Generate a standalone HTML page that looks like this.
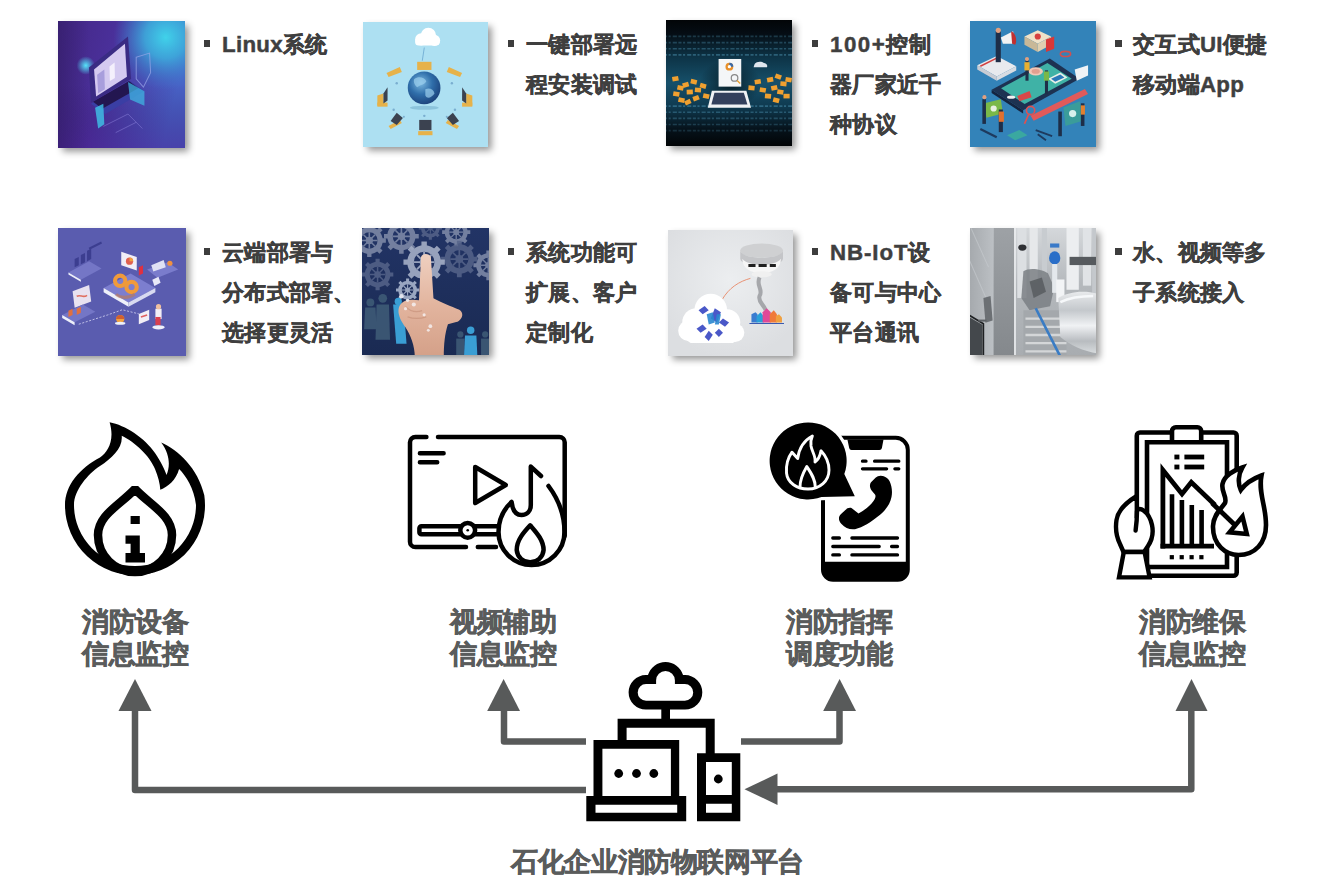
<!DOCTYPE html>
<html><head><meta charset="utf-8">
<style>
html,body{margin:0;padding:0;background:#fff;}
body{width:1320px;height:882px;position:relative;overflow:hidden;font-family:"Liberation Sans",sans-serif;}
.img{position:absolute;width:127px;height:127px;overflow:hidden;box-shadow:3.5px 3.5px 7px rgba(0,0,0,0.42);}
.img svg{position:absolute;left:-2px;top:-2px;width:calc(100% + 4px);height:calc(100% + 4px);display:block;filter:blur(0.6px);}
.txt{position:absolute;font-size:22.3px;font-weight:bold;color:#3f3f3f;line-height:40px;white-space:nowrap;-webkit-text-stroke:0.45px #3f3f3f;letter-spacing:0.3px;}
.bul{position:absolute;width:6.3px;height:6.3px;background:#3d3d3d;}
.lab{position:absolute;font-size:26.8px;font-weight:bold;color:#5a5c5c;line-height:31.5px;-webkit-text-stroke:0.6px #5a5c5c;letter-spacing:-0.5px;text-align:center;white-space:nowrap;width:140px;}
svg.abs{position:absolute;left:0;top:0;}
</style></head><body>

<!-- images row 1 -->
<div class="img" id="i1" style="left:58.4px;top:20.5px;width:126.6px;height:127.2px"><svg viewBox="0 0 127 127" preserveAspectRatio="none">
<defs>
<linearGradient id="g1a" x1="0" y1="0" x2="1" y2="0.25"><stop offset="0" stop-color="#432684"/><stop offset="0.45" stop-color="#4a309a"/><stop offset="1" stop-color="#4862c6"/></linearGradient>
<radialGradient id="g1b" cx="0.84" cy="0.14" r="0.4"><stop offset="0" stop-color="#40d2ea"/><stop offset="0.4" stop-color="#3cb0de" stop-opacity="0.85"/><stop offset="1" stop-color="#3a80d0" stop-opacity="0"/></radialGradient>
<linearGradient id="g1c" x1="0" y1="0" x2="0" y2="1"><stop offset="0.5" stop-color="#2a1560" stop-opacity="0"/><stop offset="1" stop-color="#4a2090" stop-opacity="0.5"/></linearGradient>
<linearGradient id="g1e" x1="0" y1="0" x2="1" y2="0"><stop offset="0" stop-color="#2a1858" stop-opacity="0.45"/><stop offset="0.25" stop-color="#2a1858" stop-opacity="0"/></linearGradient>
<radialGradient id="g1d" cx="0.5" cy="0.5" r="0.5"><stop offset="0" stop-color="#56e4fa"/><stop offset="1" stop-color="#50e0f8" stop-opacity="0"/></radialGradient>
</defs>
<rect width="127" height="127" fill="url(#g1a)"/>
<rect width="127" height="127" fill="url(#g1b)"/>
<rect width="127" height="127" fill="url(#g1c)"/>
<rect width="127" height="127" fill="url(#g1e)"/>
<circle cx="29" cy="45" r="9" fill="url(#g1d)"/>
<path d="M34 82 L72 60 L86 70 L48 92 Z" fill="#3a3ea4"/>
<path d="M36 80 L71 60 L80 67 L45 87 Z" fill="#231650"/>
<path d="M70 61 L86 70 L86 84 L72 78 Z" fill="#3fb4e2" opacity="0.75"/>
<path d="M32 47 L70 17 L73 58 L34 81 Z" fill="#3a2c84"/>
<path d="M37 49 L67 24 L69 56 L39 75 Z" fill="#d4caf0"/>
<path d="M40 54 L47 49 L47.5 68 L41 72 Z" fill="#a89edc"/>
<path d="M52 46 L57 42 L57.3 57 L52.4 60 Z" fill="#f4f0fc"/>
<path d="M78 37 L91 33 L92 52 L85 66 L78 58 Z" fill="none" stroke="#98a6e8" stroke-width="1" opacity="0.7"/>
<path d="M38 86 L46 82 L47 102 L41 106 Z" fill="#40bce4" opacity="0.85"/>
<path d="M46 104 L70 92 L84 106 M58 110 L78 100" stroke="#8e84dc" stroke-width="0.8" fill="none" opacity="0.6"/>
</svg></div>
<div class="img" id="i2" style="left:362.7px;top:21.5px;width:125.7px;height:125.5px"><svg viewBox="0 0 127 127" preserveAspectRatio="none">
<defs><radialGradient id="g2a" cx="0.4" cy="0.35" r="0.7"><stop offset="0" stop-color="#7ab8e0"/><stop offset="0.5" stop-color="#2f6eaa"/><stop offset="1" stop-color="#1a3f78"/></radialGradient></defs>
<rect width="127" height="127" fill="#ade0f2"/>
<g fill="#fff"><circle cx="59" cy="19" r="6"/><circle cx="66" cy="15" r="7.5"/><circle cx="72" cy="20" r="5.5"/><rect x="53" y="18" width="24" height="7" rx="3.5"/></g>
<path d="M62 27 L60 40" stroke="#6aa8d0" stroke-width="0.8"/>
<ellipse cx="62" cy="86" rx="14" ry="2" fill="#8cc4dc"/>
<circle cx="61.8" cy="66.6" r="16" fill="url(#g2a)"/>
<path d="M52 58 C56 55 62 56 64 60 C62 64 58 63 55 66 C53 64 51 61 52 58 Z M63 68 C67 66 71 68 72 72 C69 76 65 78 63 74 Z" fill="#9cd0ee" opacity="0.7"/>
<g fill="#e6b24a">
<rect x="55" y="41" width="14" height="8"/>
<path d="M25 52 L38 46 L40 51 L27 56 Z"/>
<path d="M86 46 L99 52 L97 56 L84 51 Z"/>
<path d="M16 74 L22 72 L22 82 L16 84 Z"/><rect x="16" y="81" width="10" height="4"/>
<path d="M103 72 L109 74 L109 84 L103 82 Z"/><rect x="99" y="81" width="10" height="4"/>
<path d="M27 104 L38 98 L40 101 L29 107 Z"/>
<rect x="56" y="109" width="14" height="4"/>
<path d="M85 98 L96 104 L94 107 L83 101 Z"/>
</g>
<g fill="#3b4250">
<path d="M29 99 L35 91 L41 96 L35 103 Z"/>
<rect x="57" y="98" width="12" height="10"/>
<path d="M84 96 L90 91 L96 99 L90 103 Z"/>
<path d="M22 72 L26 66 L26 79 L22 82 Z"/>
<path d="M103 72 L99 66 L99 79 L103 82 Z"/>
</g>
<g fill="#7aaed0"><circle cx="35" cy="62" r="1.2"/><circle cx="89" cy="62" r="1.2"/><circle cx="32" cy="88" r="1.2"/><circle cx="92" cy="88" r="1.2"/><circle cx="62" cy="94" r="1.2"/><circle cx="42" cy="95" r="1"/><circle cx="84" cy="95" r="1"/></g>
</svg></div>
<div class="img" id="i3" style="left:665.7px;top:20.4px;width:126.8px;height:126.1px"><svg viewBox="0 0 127 127" preserveAspectRatio="none">
<defs><linearGradient id="g3a" x1="0" y1="0" x2="0" y2="1"><stop offset="0" stop-color="#020406"/><stop offset="0.12" stop-color="#050d14"/><stop offset="0.3" stop-color="#0d3346"/><stop offset="0.5" stop-color="#16506a"/><stop offset="0.68" stop-color="#0f3a50"/><stop offset="0.85" stop-color="#06131c"/><stop offset="1" stop-color="#010203"/></linearGradient>
<radialGradient id="g3b" cx="0.5" cy="0.5" r="0.5"><stop offset="0" stop-color="#000" stop-opacity="0.6"/><stop offset="1" stop-color="#000" stop-opacity="0"/></radialGradient></defs>
<rect width="127" height="127" fill="url(#g3a)"/>
<path d="M0 18 H127" stroke="#5aa8c8" stroke-width="1.6" stroke-dasharray="3 1.5 2 2 4 1.5" opacity="0.25"/><path d="M0 24 H127" stroke="#5aa8c8" stroke-width="1.6" stroke-dasharray="3 1.5 2 2 4 1.5" opacity="0.3"/><path d="M0 30 H127" stroke="#5aa8c8" stroke-width="1.6" stroke-dasharray="3 1.5 2 2 4 1.5" opacity="0.35"/><path d="M0 36 H127" stroke="#5aa8c8" stroke-width="1.6" stroke-dasharray="3 1.5 2 2 4 1.5" opacity="0.4"/><path d="M0 86 H127" stroke="#5aa8c8" stroke-width="1.6" stroke-dasharray="3 1.5 2 2 4 1.5" opacity="0.4"/><path d="M0 92 H127" stroke="#5aa8c8" stroke-width="1.6" stroke-dasharray="3 1.5 2 2 4 1.5" opacity="0.35"/><path d="M0 98 H127" stroke="#5aa8c8" stroke-width="1.6" stroke-dasharray="3 1.5 2 2 4 1.5" opacity="0.3"/><path d="M0 104 H127" stroke="#5aa8c8" stroke-width="1.6" stroke-dasharray="3 1.5 2 2 4 1.5" opacity="0.25"/><path d="M0 110 H127" stroke="#5aa8c8" stroke-width="1.6" stroke-dasharray="3 1.5 2 2 4 1.5" opacity="0.2"/>
<ellipse cx="64" cy="64" rx="30" ry="24" fill="url(#g3b)"/>
<rect x="53" y="40" width="22" height="27" fill="#f4f6f8"/>
<circle cx="63.5" cy="47.5" r="3.8" fill="#e8902a"/><path d="M63.5 47.5 L63.5 43.7 A3.8 3.8 0 0 1 67.3 47.5 Z" fill="#3a6aa8"/><circle cx="63.5" cy="47.5" r="1.6" fill="#fff"/>
<circle cx="68.5" cy="58.5" r="3.2" fill="none" stroke="#888" stroke-width="1.2"/><path d="M71 61 L74 64" stroke="#e8a030" stroke-width="1.3"/>
<path d="M46.5 71 H80 L84.5 87.5 H42.5 Z" fill="#f0f2f4"/>
<path d="M49 73 H77.5 L81 84.5 H46 Z" fill="#33405c"/>
<path d="M88 45 C90 42 95 42 97 44 C99 44 101 46 100 48 H87 Z" fill="#dfe6ee"/>
<g fill="#f0a030"><rect x="8" y="57" width="6" height="4.5" transform="rotate(-10 11 59)"/><rect x="13" y="66" width="6" height="4.5" transform="rotate(12 16 68)"/><rect x="9" y="72" width="6" height="4.5" transform="rotate(9 12 74)"/><rect x="18" y="63" width="6" height="4.5" transform="rotate(-17 21 65)"/><rect x="22" y="70" width="6" height="4.5" transform="rotate(-2 25 72)"/><rect x="26" y="60" width="6" height="4.5" transform="rotate(13 29 62)"/><rect x="30" y="68" width="6" height="4.5" transform="rotate(5 33 70)"/><rect x="35" y="64" width="6" height="4.5" transform="rotate(15 38 66)"/><rect x="14" y="78" width="6" height="4.5" transform="rotate(12 17 80)"/><rect x="28" y="76" width="6" height="4.5" transform="rotate(-21 31 78)"/><rect x="38" y="74" width="6" height="4.5" transform="rotate(13 41 76)"/><rect x="20" y="80" width="6" height="4.5" transform="rotate(-25 23 82)"/><rect x="82" y="66" width="6" height="4.5" transform="rotate(5 85 68)"/><rect x="88" y="60" width="6" height="4.5" transform="rotate(-9 91 62)"/><rect x="93" y="68" width="6" height="4.5" transform="rotate(10 96 70)"/><rect x="100" y="58" width="6" height="4.5" transform="rotate(-11 103 60)"/><rect x="104" y="66" width="6" height="4.5" transform="rotate(-13 107 68)"/><rect x="108" y="55" width="6" height="4.5" transform="rotate(20 111 57)"/><rect x="113" y="62" width="6" height="4.5" transform="rotate(5 116 64)"/><rect x="118" y="58" width="6" height="4.5" transform="rotate(9 121 60)"/><rect x="110" y="70" width="6" height="4.5" transform="rotate(10 113 72)"/><rect x="98" y="74" width="6" height="4.5" transform="rotate(5 101 76)"/><rect x="116" y="74" width="6" height="4.5" transform="rotate(0 119 76)"/><rect x="106" y="78" width="6" height="4.5" transform="rotate(15 109 80)"/></g>
</svg></div>
<div class="img" id="i4" style="left:969.5px;top:20.6px;width:126.3px;height:126.6px"><svg viewBox="0 0 127 127" preserveAspectRatio="none">
<rect width="127" height="127" fill="#3383b9"/>
<path d="M9 45 L28 36 L47 46 L28 56 Z" fill="#e8eaee"/><path d="M9 45 L28 56 L28 60 L9 49 Z" fill="#c8ccd4"/><path d="M28 56 L47 46 L47 50 L28 60 Z" fill="#d8dce2"/>
<path d="M12 46 L28 38" stroke="#d04040" stroke-width="1.5"/>
<rect x="27" y="12" width="5" height="30" fill="#1e2e48"/><circle cx="29.5" cy="11" r="2.5" fill="#e0a080"/>
<path d="M32 18 L44 12 L46 24 L34 24 Z" fill="#f2f2f2"/><path d="M42 12 C47 14 48 22 46 25 L43 24 Z" fill="#c03030"/>
<path d="M55 17 L68 11 L81 17 L68 24 Z" fill="#f0e2c8"/><path d="M55 17 L68 24 L68 32 L55 25 Z" fill="#c8b898"/><path d="M68 24 L81 17 L81 25 L68 32 Z" fill="#e0d0b0"/>
<circle cx="68" cy="17" r="3" fill="#d84040"/>
<path d="M76 20 L84 17 L84 29 L76 32 Z" fill="#d83838"/>
<ellipse cx="95" cy="34" rx="5" ry="2.5" fill="none" stroke="#d05050" stroke-width="1.6"/>
<path d="M23 68.9 L79.7 38.3 L108.7 58.2 L53.7 88.8 Z" fill="#1d3252"/>
<path d="M23 68.9 L53.7 88.8 L53.7 92 L23 72 Z" fill="#142440"/>
<path d="M32.2 67.4 L77.4 42.9 L101.1 58.2 L55.2 82.7 Z" fill="#3fb2a6"/>
<path d="M104 49 L117 45 L117 55 L106 60 Z" fill="#eef2f6"/>
<path d="M78 58 L90 52 L97 57 L85 63 Z" fill="#e8f0e8"/><path d="M81 58 L90 54 L94 57 L85 61 Z" fill="#2a78b8"/>
<ellipse cx="66" cy="51" rx="7" ry="4" fill="#f0c8b8"/><ellipse cx="66" cy="51" rx="4" ry="2.3" fill="#e0a090"/>
<rect x="56" y="40" width="3" height="20" fill="#1e2e48"/><rect x="55" y="42" width="5" height="8" fill="#e8b030"/><circle cx="57.5" cy="39" r="2" fill="#e0a080"/>
<rect x="75" y="50" width="3" height="23" fill="#1e2e48"/><rect x="74" y="51" width="5" height="9" fill="#7ab848"/>
<ellipse cx="42" cy="76" rx="4" ry="1.6" fill="#f0f0f0"/>
<path d="M48 75 L60 70 L62 76 L50 80 Z" fill="#d84848"/>
<path d="M61 94 L114 68 L117 73 L64 99 Z" fill="#e05a5a"/>
<circle cx="61" cy="89" r="4" fill="none" stroke="#e05050" stroke-width="1.6"/><path d="M59 93 L55 102" stroke="#e05050" stroke-width="1.6"/>
<path d="M16 82 L32 78 L34 92 L18 96 Z" fill="#7ab848"/><circle cx="25" cy="87" r="3" fill="#e8f0e0"/>
<rect x="14" y="78" width="3.5" height="24" fill="#1e2e48"/><circle cx="16" cy="76" r="2" fill="#e0a080"/>
<rect x="30" y="88" width="4" height="22" fill="#1e2e48"/><rect x="30" y="90" width="5" height="10" fill="#e07030"/>
<path d="M93 86 L109 80 L112 99 L95 104 Z" fill="#3a9c9a"/><circle cx="102" cy="92" r="3.5" fill="#d8f0ec"/>
<rect x="88" y="90" width="3.5" height="24" fill="#1e2e48"/><rect x="110" y="82" width="3.5" height="22" fill="#1e2e48"/><rect x="110" y="84" width="4" height="9" fill="#e08030"/>
<path d="M12 107 L28 115" stroke="#1e3a5e" stroke-width="2.2"/>
<path d="M38 113 L50 108 L58 113 L46 118 Z" fill="#3aa8a0"/>
<path d="M66 108 L82 114 M68 112 L76 118" stroke="#1e3a5e" stroke-width="1.8"/>
</svg></div>
<!-- images row 2 -->
<div class="img" id="i5" style="left:58.4px;top:228.4px;width:127.5px;height:127.3px"><svg viewBox="0 0 127 127" preserveAspectRatio="none">
<rect width="127" height="127" fill="#5a5caf"/>
<path d="M12 45 L32 34 L44 41 L24 52 Z" fill="#7476c6"/><path d="M12 45 L24 52 L24 54 L12 47 Z" fill="#eef0fa"/>
<path d="M18 40 L22 38 L22 30 L18 32 Z M24 37 L28 35 L28 26 L24 28 Z M30 34 L34 32 L34 22 L30 24 Z" fill="#3c3e90"/>
<path d="M32 22 L44 16" stroke="#3c3e90" stroke-width="2"/>
<path d="M63 25 L78 30 L78 43 L63 38 Z" fill="#f2eef6"/><circle cx="71" cy="34" r="3.5" fill="#e06050"/><path d="M71 34 L71 30.5 A3.5 3.5 0 0 1 74.5 34 Z" fill="#f0a040"/>
<path d="M80 40 L84 38 L84 46 L80 48 Z" fill="#e03040"/>
<path d="M88 42 L108 35 L118 42 L98 50 Z" fill="#7a7ccc"/><path d="M92 38 L104 33 L106 40 L94 44 Z" fill="#dfe0f4"/><circle cx="110" cy="36" r="2.5" fill="#f09040"/>
<path d="M46 60 L72 46 L96 60 L70 74 Z" fill="#7c7ecf"/><path d="M46 60 L70 74 L70 78 L46 64 Z" fill="#eef0fa"/><path d="M70 74 L96 60 L96 64 L70 78 Z" fill="#d8daf0"/>
<g fill="none" stroke="#f09a3a" stroke-width="4"><circle cx="62" cy="53" r="5"/><circle cx="73" cy="59" r="5"/></g>
<path d="M58 66 C62 70 70 70 76 66" stroke="#c07a50" stroke-width="3" fill="none" opacity="0.6"/>
<path d="M16 63 L32 57 L34 73 L18 79 Z" fill="#e8e2f0"/><path d="M20 68 C24 66 26 70 30 67" stroke="#e07060" stroke-width="1.5" fill="none"/>
<path d="M6 86 L26 76 L38 83 L18 93 Z" fill="#7476c6"/><path d="M6 86 L18 93 L18 96 L6 89 Z" fill="#eef0fa"/>
<path d="M12 82 L16 80 L16 86 L12 88 Z M20 80 L24 78 L24 84 L20 86 Z" fill="#e07040"/>
<path d="M22 95 L50 86 L64 81 L80 85" stroke="#d0d0f0" stroke-width="0.8" fill="none" stroke-dasharray="2 1.5"/>
<circle cx="62" cy="90" r="4" fill="#f0a040"/><path d="M58 90 A4 4 0 0 1 66 90 Z" fill="#d06030"/><ellipse cx="62" cy="94" rx="5" ry="1.5" fill="#eef0fa"/>
<path d="M80 85 L90 81 L90 91 L80 95 Z" fill="#f2eef6"/><path d="M82 88 L88 86" stroke="#e06060" stroke-width="1.5"/>
<rect x="96" y="80" width="6" height="10" fill="#f2eef6"/><circle cx="99" cy="78" r="2.5" fill="#f0c0a0"/><rect x="96" y="88" width="5" height="8" fill="#d84050"/>
<ellipse cx="99" cy="98" rx="6" ry="2" fill="#eef0fa"/>
<path d="M93 52 L99 49 L101 55 L95 58 Z" fill="#e8e8f8"/>
</svg></div>
<div class="img" id="i6" style="left:361.9px;top:228.2px;width:127.4px;height:127.2px"><svg viewBox="0 0 127 127" preserveAspectRatio="none">
<defs>
<g id="gear"><circle r="10.5" fill="none" stroke-width="5"/><circle r="3"/><path d="M0 -8 V8 M-8 0 H8 M-5.6 -5.6 L5.6 5.6 M-5.6 5.6 L5.6 -5.6" stroke-width="1.5"/>
<g stroke-width="4.2"><path d="M0 -16 V-10 M0 16 V10 M-16 0 H-10 M16 0 H10 M-11.3 -11.3 L-7 -7 M11.3 11.3 L7 7 M-11.3 11.3 L-7 7 M11.3 -11.3 L7 -7"/></g></g>
<linearGradient id="g6a" x1="0" y1="0" x2="0" y2="1"><stop offset="0" stop-color="#efd0c0"/><stop offset="0.5" stop-color="#e2b49e"/><stop offset="1" stop-color="#d4a088"/></linearGradient>
<linearGradient id="g6b" x1="0" y1="0" x2="0" y2="1"><stop offset="0" stop-color="#223466"/><stop offset="1" stop-color="#1a2a52"/></linearGradient>
</defs>
<rect width="127" height="127" fill="url(#g6b)"/>
<g fill="#7c88a6" stroke="#7c88a6" opacity="0.9">
<use href="#gear" transform="translate(9 14)"/>
<use href="#gear" transform="translate(40 10) scale(1.05)"/>
<use href="#gear" transform="translate(93 6) scale(0.85)"/>
<use href="#gear" transform="translate(124 38) scale(0.9)"/>
</g>
<g fill="#56648a" stroke="#56648a" opacity="0.85">
<use href="#gear" transform="translate(17 47) scale(0.95)"/>
<use href="#gear" transform="translate(96 32) scale(1.1)"/>
<use href="#gear" transform="translate(68 2) scale(0.7)"/>
</g>
<g fill="#a2acc4" stroke="#a2acc4" opacity="0.92"><use href="#gear" transform="translate(62 35) scale(1.25)"/></g>
<g fill="#b8c4da" stroke="#b8c4da" opacity="0.8"><use href="#gear" transform="translate(46 62) scale(0.7)"/></g>
<g fill="#42607a" opacity="0.8">
<circle cx="10" cy="74" r="3.8"/><path d="M5 79 H15 L16 100 H4 Z"/>
<circle cx="22" cy="70" r="4.2"/><path d="M16 76 H28 L29 110 H15 Z"/>
<circle cx="97" cy="105" r="3"/><path d="M93 109 H101 V127 H93 Z"/>
<circle cx="121" cy="105" r="3"/><path d="M117 109 H127 V127 H117 Z"/>
</g>
<g fill="#3a9ed4"><circle cx="107" cy="101" r="3.6"/><path d="M101.5 106 H112.5 L113.5 127 H100.5 Z"/>
<path d="M32 76 H42 L45 114 H35 Z"/><circle cx="37" cy="73" r="3.5"/></g>
<path d="M59 30 C60 26 67 26 68.5 30 L71 70 C78 74 88 78 96 81 C101 84 99 91 93 93 L85 95 C82 104 81 114 81 127 H53 C53 116 49 106 44 98 C38 90 35 82 39 76 C43 71 51 71 57 72 Z" fill="url(#g6a)"/>
<path d="M44 78 C48 82 54 84 60 82 M46 88 C52 90 58 90 64 88" stroke="#c08870" stroke-width="1.2" fill="none" opacity="0.5"/>
<g fill="#f8f8fc" opacity="0.75"><circle cx="40" cy="68" r="2.2"/><circle cx="46" cy="72" r="1.6"/><circle cx="52" cy="76" r="2"/><circle cx="44" cy="80" r="1.5"/><circle cx="62" cy="86" r="1.5"/><circle cx="68" cy="97" r="1.8"/><circle cx="66" cy="101" r="1.4"/></g>
</svg></div>
<div class="img" id="i7" style="left:667.8px;top:229.5px;width:125.2px;height:126.5px"><svg viewBox="0 0 127 127" preserveAspectRatio="none">
<defs><radialGradient id="g7a" cx="0.5" cy="0.4" r="0.6"><stop offset="0" stop-color="#eceef0"/><stop offset="1" stop-color="#dcdee1"/></radialGradient></defs>
<rect width="127" height="127" fill="url(#g7a)"/>
<ellipse cx="94" cy="22" rx="21" ry="7" fill="#cfd0d2"/>
<path d="M73 22 V30 C73 34 83 38 94 38 C105 38 115 34 115 30 V22 C115 26 105 29 94 29 C83 29 73 26 73 22 Z" fill="#c4c5c8"/>
<path d="M75 30 C75 40 84 44 94 44 C104 44 113 40 113 30 C110 34 102 36 94 36 C86 36 78 34 75 30 Z" fill="#f6f6f6"/>
<path d="M81 35 H88 V38 H81 Z M91 35 H99 V38 H91 Z M102 35 H108 V38 H102 Z" fill="#202020"/>
<ellipse cx="94" cy="45" rx="10" ry="3" fill="#f0f0f0"/>
<path d="M92 48 C88 56 96 60 92 66 C90 72 96 74 98 80" stroke="#8a8c90" stroke-width="4" fill="none" opacity="0.7"/>
<path d="M83 49 C72 52 62 58 55 70" stroke="#e88a6a" stroke-width="0.9" fill="none"/>
<g fill="#ffffff"><circle cx="30" cy="92" r="14"/><circle cx="44" cy="80" r="16"/><circle cx="60" cy="92" r="13"/><circle cx="22" cy="100" r="10"/><circle cx="68" cy="102" r="9"/><rect x="18" y="92" width="54" height="20" rx="9"/></g>
<g fill="#4a58c8"><path d="M32 80 L38 76 L42 80 L36 84 Z"/><path d="M48 78 L54 82 L50 92 L44 88 Z"/><path d="M56 88 L62 92 L58 96 L52 92 Z"/><path d="M30 98 L36 94 L40 98 L34 102 Z"/><path d="M42 100 L46 104 L42 110 L38 106 Z"/><path d="M52 98 L56 102 L52 106 L48 102 Z"/></g>
<g fill="#2a88d0" opacity="0.9"><path d="M40 84 L46 82 L48 92 L42 94 Z"/><path d="M50 84 L54 84 L52 94 L48 94 Z"/></g>
<g><path d="M84 92 V84 L88 82 L90 84 V92 Z" fill="#3a7cd0"/><path d="M89 92 V86 L93 82 L96 86 V92 Z" fill="#2aa0d8"/><path d="M95 92 V82 L99 78 L103 82 V92 Z" fill="#e04898"/><path d="M102 92 V84 L106 80 L109 84 V92 Z" fill="#f07a3a"/><path d="M108 92 V86 L111 84 L114 87 V92 Z" fill="#f0a040"/><path d="M82 93 H116" stroke="#3a5ab0" stroke-width="1"/></g>
</svg></div>
<div class="img" id="i8" style="left:969.7px;top:228.4px;width:126.3px;height:126.6px"><svg viewBox="0 0 127 127" preserveAspectRatio="none">
<defs>
<linearGradient id="g8a" x1="0" y1="0" x2="1" y2="0"><stop offset="0" stop-color="#a4a8ac"/><stop offset="1" stop-color="#bcc0c4"/></linearGradient>
<linearGradient id="g8c" x1="0" y1="0" x2="0" y2="1"><stop offset="0" stop-color="#9ea2a6"/><stop offset="1" stop-color="#84888c"/></linearGradient>
<linearGradient id="g8d" x1="0" y1="0" x2="0" y2="1"><stop offset="0" stop-color="#d6d9dc"/><stop offset="0.45" stop-color="#b4b8bc"/><stop offset="1" stop-color="#a8acb0"/></linearGradient>
<linearGradient id="g8e" x1="0" y1="0" x2="0" y2="1"><stop offset="0" stop-color="#e8eaec"/><stop offset="0.3" stop-color="#c4c8cc"/><stop offset="0.55" stop-color="#f0f2f4"/><stop offset="0.8" stop-color="#b8bcc0"/><stop offset="1" stop-color="#d8dcde"/></linearGradient>
</defs>
<rect width="127" height="127" fill="url(#g8d)"/>
<rect x="0" y="0" width="25" height="127" fill="url(#g8a)"/>
<path d="M2 0 L20 40 M0 30 L22 80" stroke="#c8ccd0" stroke-width="1" opacity="0.6"/>
<path d="M0 88 L14 96 V127 H0 Z" fill="#44484c"/><path d="M0 86 L15 95 V127" stroke="#1e2022" stroke-width="1.6" fill="none"/>
<path d="M15 70 L22 68 L24 92 L17 94 Z" fill="#6c7074"/><path d="M10 92 H18" stroke="#5c6064" stroke-width="2"/>
<rect x="25" y="0" width="20" height="127" fill="url(#g8c)"/>
<rect x="45" y="0" width="1.6" height="127" fill="#eceef0"/>
<rect x="48" y="0" width="9" height="70" fill="#dcdfe2"/><rect x="60" y="0" width="8" height="55" fill="#e6e8ea"/><rect x="72" y="0" width="5" height="50" fill="#c8ccd0"/>
<rect x="96" y="0" width="12" height="62" fill="#eceef0"/><rect x="112" y="0" width="8" height="58" fill="#e0e3e6"/><rect x="121" y="0" width="6" height="70" fill="#c4c8cc"/>
<ellipse cx="53" cy="21" rx="4" ry="3" fill="#2e3034"/>
<path d="M54 44 C60 40 72 42 78 46 L84 60 L80 78 L60 82 L52 70 Z" fill="#7a7f84" opacity="0.85"/>
<path d="M60 54 L72 50 L76 64 L64 70 Z" fill="#5a5e62" opacity="0.9"/>
<rect x="80" y="17" width="9" height="4" fill="#3a7ac8"/><ellipse cx="84.5" cy="31" rx="5.5" ry="6.5" fill="#2a6ec8"/>
<rect x="82" y="37" width="5" height="28" fill="#e4e8ec"/>
<rect x="86" y="52" width="8" height="22" fill="#f2f4f6"/>
<rect x="99" y="30" width="28" height="8" fill="#565a5e"/>
<path d="M54 82 H96 V127 H54 Z" fill="#a4a8ac"/>
<g stroke="#d4d6d8" stroke-width="2.2"><path d="M56 90 H94 M56 98 H96 M56 106 H96 M56 114 H96 M56 122 H96"/></g>
<path d="M66 80 L90 127" stroke="#3a7cc4" stroke-width="2.6"/>
<path d="M88 70 C98 64 112 62 127 66 V124 C112 122 100 116 90 108 Z" fill="url(#g8e)"/>
<path d="M90 74 C98 70 108 68 122 68" stroke="#f6f8fa" stroke-width="2.5" fill="none"/>
</svg></div>

<!-- bullets & text -->
<div class="bul" style="left:203.6px;top:40.4px"></div>
<div class="txt" style="left:222px;top:25px">Linux系统</div>
<div class="bul" style="left:507.8px;top:40.4px"></div>
<div class="txt" style="left:526px;top:25px">一键部署远<br>程安装调试</div>
<div class="bul" style="left:811.6px;top:40.4px"></div>
<div class="txt" style="left:830px;top:25px"><span style="letter-spacing:1.5px">100+</span>控制<br>器厂家近千<br>种协议</div>
<div class="bul" style="left:1115.3px;top:40.4px"></div>
<div class="txt" style="left:1133px;top:25px">交互式UI便捷<br>移动端App</div>

<div class="bul" style="left:203.6px;top:248.4px"></div>
<div class="txt" style="left:222px;top:233px">云端部署与<br>分布式部署、<br>选择更灵活</div>
<div class="bul" style="left:507.8px;top:248.4px"></div>
<div class="txt" style="left:526px;top:233px">系统功能可<br>扩展、客户<br>定制化</div>
<div class="bul" style="left:811.6px;top:248.4px"></div>
<div class="txt" style="left:830px;top:233px"><span style="letter-spacing:0.9px">NB-IoT</span>设<br>备可与中心<br>平台通讯</div>
<div class="bul" style="left:1115.3px;top:248.4px"></div>
<div class="txt" style="left:1133px;top:233px">水、视频等多<br>子系统接入</div>

<!-- labels -->
<div class="lab" style="left:65px;top:607px">消防设备<br>信息监控</div>
<div class="lab" style="left:433px;top:607px">视频辅助<br>信息监控</div>
<div class="lab" style="left:769px;top:607px">消防指挥<br>调度功能</div>
<div class="lab" style="left:1122px;top:607px">消防维保<br>信息监控</div>
<div class="lab" style="left:457.5px;top:847px;width:400px;font-size:26.5px;letter-spacing:-0.4px">石化企业消防物联网平台</div>

<svg class="abs" width="1320" height="882" viewBox="0 0 1320 882">
 <!-- arrows -->
 <g fill="none" stroke="#585a5a" stroke-width="6.5" stroke-linejoin="round">
  <path d="M586 790 H135 V708"/>
  <path d="M586 741.6 H504 V708"/>
  <path d="M741 741.6 H839.5 V708"/>
  <path d="M775 789.2 H1191.3 V708"/>
 </g>
 <g fill="#585a5a">
  <path d="M135 679 L151.5 711 L118.5 711Z"/>
  <path d="M503.6 679 L520 711 L487.2 711Z"/>
  <path d="M839.6 679 L856 711 L823.2 711Z"/>
  <path d="M1191.5 679 L1207.5 711 L1175.5 711Z"/>
  <path d="M744.5 789.2 L777.5 773.6 L777.5 805Z"/>
 </g>
 <!-- icon 1 flame info -->
 <g>
  <path fill="#000" d="M109.6 422.2 C125 425 145 438 155 453 C161 462 165 470 166.5 475 C170 467 170.5 455 161.2 442.5 C178 450 198 468 204.3 495.3 A70 70 0 1 1 65 505 C65 485 80 468 100 457.4 C108 452 115 440 109.6 422.2 Z"/>
  <path fill="#fff" d="M121.7 435.7 C135 442 150 456 155 469 C158 476 160 484 160.3 489.7 C168 487 176 480 179.1 469 C186 476 194 488 196 505 A61 61 0 1 1 74 505 C74 490 88 474 100 466 C112 458 123 448 121.7 435.7 Z"/>
  <path fill="none" stroke="#000" stroke-width="8.5" stroke-linejoin="bevel" d="M135 489 C150 505 172 515 172 535 A37 37 0 0 1 98 535 C98 515 120 505 135 489 Z"/>
  <rect x="130.6" y="516" width="9.2" height="8"/>
  <path d="M125.5 535.5 H139.8 V553 H145 V562.6 H125.5 V553 H130.6 V543.7 H125.5 Z"/>
 </g>
 <!-- icon 2 video -->
 <g fill="none" stroke="#000" stroke-width="4.5" stroke-linecap="round" stroke-linejoin="round">
  <path d="M426.4 436.9 H415.4 A5.4 5.4 0 0 0 410 442.3 V541.7 A5.4 5.4 0 0 0 415.4 547.1 H466"/>
  <path d="M477.8 547.1 H496"/>
  <path d="M438 436.9 H559.3 A5.4 5.4 0 0 1 564.7 442.3 V536"/>
  <path d="M419.9 453.2 H443.6 M419.9 462.3 H437.2"/>
  <path d="M475.2 467 L505.8 485 L475.2 503 Z"/>
  <path d="M548.5 486 C556 496 564.5 510 564.5 532 A33 33 0 0 1 498.5 532 C498.5 520 504 509 511.6 502 C512.5 510 516 515 521.5 515 C527 515 530.8 511 530.8 505 V466.6 L541 476"/>
  <path d="M530.2 525.3 C536 532 543.6 540 543.6 550 A13.5 13.5 0 0 1 516.7 550 C516.7 540 524 532 530.2 525.3 Z"/>
  <path d="M460 526.2 H421.4 A2 2 0 0 0 419.4 528.2 V532.3 A2 2 0 0 0 421.4 534.3 H460 M475 526.2 H497 M475 534.3 H497"/>
  <circle cx="467.7" cy="530.3" r="7.4"/>
 </g>
 <circle cx="467.7" cy="530.3" r="1.3"/>
 <!-- icon 3 phone -->
 <g>
  <path fill-rule="evenodd" d="M834.5 435.8 H895.8 A14 14 0 0 1 909.8 449.8 V569.7 A12 12 0 0 1 897.8 581.7 H833 A12 12 0 0 1 821 569.7 V449.8 A14 14 0 0 1 834.5 435.8 Z M835 439.8 H895.8 A10 10 0 0 1 905.8 449.8 V561.8 H825 V449.8 A10 10 0 0 1 835 439.8 Z"/>
  <path d="M847.4 439.5 H883.5 L881.9 448 Q881.5 450.1 879.5 450.1 H851.5 Q849.5 450.1 849.2 448 Z"/>
  <g fill="none" stroke="#000" stroke-width="3.3" stroke-linecap="round">
   <path d="M862.5 461.2 H866 M874.6 461.2 H898.8 M862.5 468.8 H886.6 M894.9 468.8 H898.8"/>
   <path d="M832.8 538 H839.4 M851.9 538 H897.5 M832.8 546.5 H879.2 M891.6 546.5 H897.5 M832.8 554.9 H839.4 M851.9 554.9 H897.5"/>
  </g>
  <path d="M880.9 475.7 C885 476 888 478 889.5 481 C892 486 892.5 492 891.5 497 C890 505 884 512 877.8 516.6 C871 522 863 527.5 855 529.2 C850 530 845 528 841.5 524 C838.5 521 838 517 840.8 514.3 L845.4 510 C847 508.3 849.5 507.3 851.8 508.2 L858.5 513.5 C864 510.5 870 506 873.5 501 C875.5 498.5 876 496 875 494.5 L871.6 490.4 C869.5 487.5 869.5 484 871 482.3 L875.5 477.8 C877 476.3 879 475.6 880.9 475.7 Z"/>
  <path fill="#000" stroke="#fff" stroke-width="6.4" stroke-linejoin="round" d="M844.3 474.1 L854.8 496.3 L821.5 497 A38.5 38.5 0 1 1 844.3 474.1 Z"/>
  <path fill="#000" d="M844.3 474.1 L854.8 496.3 L821.5 497 A38.5 38.5 0 1 1 844.3 474.1 Z"/>
  <g fill="none" stroke="#fff" stroke-width="2.9" stroke-linejoin="round">
   <path d="M812.4 436 C805 440 799 448 797.7 458.5 L792 452.2 C787 459 786 466 786.5 473 C787.5 483 797 489 808 489 C820 489 829 481 829 470 C829 462 826 456 821 450.7 C820 456 818 460 815 462 C816 456 812 452 811 446 C810.5 442 811 439 812.4 436 Z"/>
   <path d="M800 487 C800 479 803 473 806.8 466.5 C811 473 815.3 479 815.3 487"/>
  </g>
 </g>
 <!-- icon 4 clipboard -->
 <g fill="none" stroke="#000" stroke-width="4.6">
  <path d="M1140 432.5 H1233.5 A3.2 3.2 0 0 1 1236.7 435.7 V572.5 A3.2 3.2 0 0 1 1233.5 575.7 H1140 A3.2 3.2 0 0 1 1136.8 572.5 V435.7 A3.2 3.2 0 0 1 1140 432.5 Z"/>
  <path fill="#fff" d="M1172 442 V431 A3.8 3.8 0 0 1 1175.8 427.2 H1197.4 A3.8 3.8 0 0 1 1201.2 431 V442"/>
  <path fill="#fff" d="M1147 442.2 H1227 V567 H1147 Z"/>
  <path stroke-width="4.8" d="M1162.9 548.5 V470 L1182 494 L1191.3 482.2 L1215 505"/>
  <path stroke-width="4.8" d="M1160.5 546.2 H1214"/>
  <path stroke-width="4.6" d="M1172 544 V494.3 M1181.9 544 V500 M1191.8 544 V505 M1201.6 544 V509.9"/>
 </g>
 <g fill="#000">
  <rect x="1174.4" y="454.6" width="5" height="4.8"/><rect x="1174.4" y="464.6" width="5" height="4.8"/>
  <rect x="1184.4" y="454.6" width="19.8" height="4.8"/><rect x="1184.4" y="464.6" width="19.8" height="4.8"/>
  <rect x="1169.7" y="555.1" width="4.2" height="4.2"/><rect x="1179.6" y="555.1" width="4.2" height="4.2"/><rect x="1189.5" y="555.1" width="4.2" height="4.2"/><rect x="1199.3" y="555.1" width="4.2" height="4.2"/>
 </g>
 <g fill="#fff" stroke="#000" stroke-width="4.6" stroke-linejoin="miter">
  <path d="M1242.3 467.5 C1234 470 1224 476 1222.5 484 C1221 492 1227.5 497 1225 503 C1222 508 1213.5 514 1213 526 C1212.5 545 1226 555 1238.5 555 C1255 555 1266 543 1266 525 C1266 505 1258 493 1261.5 475.5 C1252 479 1245 484 1240.8 490 C1237.5 483 1238.5 474 1242.3 467.5 Z"/>
  <path fill="none" stroke-width="4.8" d="M1212 503 L1238 528"/>
  <path d="M1242.5 516.5 L1246.8 534 L1229.5 532.3 Z"/>
 </g>
 <g fill="#fff" stroke="#000" stroke-width="4.4" stroke-linecap="round">
  <path d="M1136.8 496 C1127 502 1118 510 1116.5 520 C1115 530 1117 538 1120 544 L1123.5 552 H1144 L1148 546 C1152 540 1153.5 532 1152 525 C1150.5 518 1147 513 1143.5 510.5 C1141 508.5 1138 508.5 1136.8 510.5 Z"/>
  <path fill="none" d="M1137 511 C1137 518 1136.5 524 1135.6 530.5"/>
  <path stroke-linecap="butt" stroke-linejoin="miter" d="M1123.8 552 L1119 577.4 H1149.6 L1144.6 552 Z"/>
 </g>
 <!-- platform icon -->
 <g fill="#000">
  <path d="M645.8 675.1 H647.95 A18.3 18.3 0 0 1 683.05 675.1 H685.1 A17.2 17.2 0 0 1 685.1 709.5 H645.8 A17.2 17.2 0 0 1 645.8 675.1 Z"/>
  <path fill="#fff" d="M646.05 684.1 H656.1 V680.3 A9.4 9.4 0 0 1 674.9 680.3 V684.1 H684.85 A8.35 8.35 0 0 1 684.85 700.8 H646.05 A8.35 8.35 0 0 1 646.05 684.1 Z"/>
  <rect x="661.3" y="706" width="8.7" height="14"/>
  <path fill="none" stroke="#000" stroke-width="9" d="M622.1 741 V723.3 H710.2 V754"/>
  <path fill-rule="evenodd" d="M593.5 740 H679.2 V797 H593.5Z M602.4 748.7 H670.9 V797 H602.4Z"/>
  <path fill-rule="evenodd" d="M586.3 795.9 H686.2 V821.3 H586.3Z M595.5 804.8 H677.2 V812.7 H595.5Z"/>
  <path fill-rule="evenodd" d="M697 753.2 H740.3 V821.3 H697Z M706 762.1 H731.8 V794.9 H706Z M706 803.8 H731.8 V812.7 H706Z"/>
  <circle cx="618.7" cy="773.5" r="4.4"/>
  <circle cx="636.5" cy="773.5" r="4.4"/>
  <circle cx="653.8" cy="773.5" r="4.4"/>
  <circle cx="718.3" cy="779" r="4.4"/>
 </g>
</svg>
</body></html>
